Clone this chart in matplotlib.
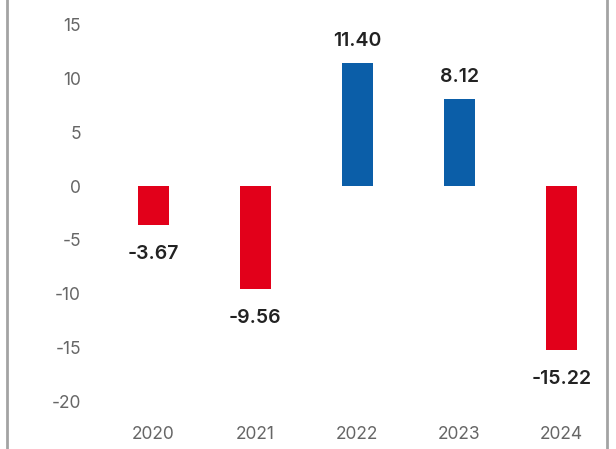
import matplotlib.pyplot as plt
from matplotlib.lines import Line2D

years = ['2020', '2021', '2022', '2023', '2024']
values = [-3.67, -9.56, 11.40, 8.12, -15.22]
yticks = [15, 10, 5, 0, -5, -10, -15, -20]

RED = '#e2001a'
BLUE = '#0b5ea8'

plt.rcParams['font.family'] = ['Inter', 'DejaVu Sans']
plt.rcParams['axes.unicode_minus'] = False

W, H = 616, 449
fig = plt.figure(figsize=(W / 100, H / 100), dpi=100)
ax = fig.add_axes([92 / W, (H - 412) / H, (605 - 92) / W, (412 - 5) / H])

x = list(range(len(years)))
colors = [BLUE if v >= 0 else RED for v in values]
ax.bar(x, values, width=0.305, color=colors)

for xi, v in zip(x, values):
    off = 22 if v >= 0 else -29
    ax.annotate(f'{v:.2f}', (xi, v), xytext=(0, off * 0.72),
                textcoords='offset points', ha='center', va='center',
                fontsize=14, fontweight='semibold', color='#222222')

ax.set_xlim(-0.6, 4.43)
ax.set_ylim(-21.02, 16.84)
ax.set_xticks(x)
ax.set_xticklabels(years)
ax.set_yticks(yticks)
ax.tick_params(length=0, labelsize=12.5, labelcolor='#666666')
ax.tick_params(axis='x', pad=10)
ax.tick_params(axis='y', pad=8)
for s in ax.spines.values():
    s.set_visible(False)

# side rules framing the panel
for px in (6.5, 606.5):
    fig.add_artist(Line2D([px / W, px / W], [0, 1], color='#a3a3a3',
                          linewidth=2.0, transform=fig.transFigure))

fig.savefig('out.png', dpi=100)
